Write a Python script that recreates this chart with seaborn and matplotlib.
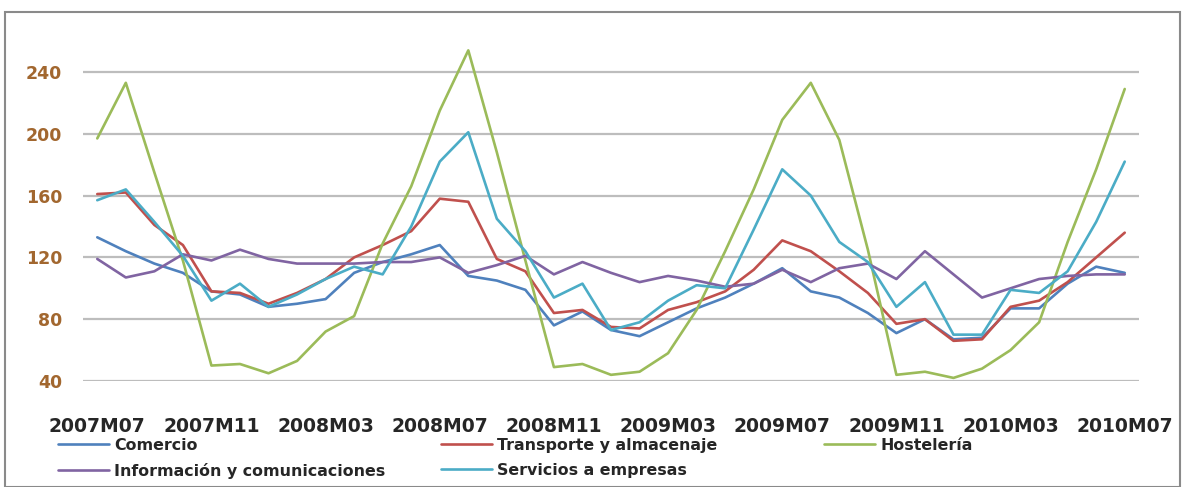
import matplotlib
matplotlib.use("Agg")
import matplotlib.pyplot as plt
import seaborn as sns
import pandas as pd
from matplotlib.patches import Rectangle

months = ["2007M07", "2007M08", "2007M09", "2007M10", "2007M11", "2007M12",
          "2008M01", "2008M02", "2008M03", "2008M04", "2008M05", "2008M06",
          "2008M07", "2008M08", "2008M09", "2008M10", "2008M11", "2008M12",
          "2009M01", "2009M02", "2009M03", "2009M04", "2009M05", "2009M06",
          "2009M07", "2009M08", "2009M09", "2009M10", "2009M11", "2009M12",
          "2010M01", "2010M02", "2010M03", "2010M04", "2010M05", "2010M06",
          "2010M07"]

comercio = [133, 124, 116, 110, 98, 96, 88, 90, 93, 110, 117, 122, 128, 108, 105, 99, 76, 85,
            73, 69, 78, 87, 94, 103, 113, 98, 94, 84, 71, 80, 67, 68, 87, 87, 103, 114, 110]
transporte = [161, 162, 141, 128, 98, 97, 90, 97, 106, 120, 128, 137, 158, 156, 119, 111, 84, 86,
              75, 74, 86, 91, 98, 112, 131, 124, 111, 97, 77, 80, 66, 67, 88, 92, 104, 120, 136]
hosteleria = [197, 233, 175, 118, 50, 51, 45, 53, 72, 82, 129, 166, 215, 254, 188, 118, 49, 51,
              44, 46, 58, 86, 124, 164, 209, 233, 196, 125, 44, 46, 42, 48, 60, 78, 130, 177, 229]
informacion = [119, 107, 111, 122, 118, 125, 119, 116, 116, 116, 117, 117, 120, 110, 115, 121, 109, 117,
               110, 104, 108, 105, 101, 103, 112, 104, 113, 116, 106, 124, 109, 94, 100, 106, 108, 109, 109]
servicios = [157, 164, 143, 121, 92, 103, 88, 96, 106, 114, 109, 140, 182, 201, 145, 124, 94, 103,
             73, 78, 92, 102, 100, 138, 177, 160, 130, 117, 88, 104, 70, 70, 99, 97, 111, 143, 182]

series_names = ["Comercio", "Transporte y almacenaje", "Hostelería",
                "Información y comunicaciones", "Servicios a empresas"]
series_values = [comercio, transporte, hosteleria, informacion, servicios]
colors = ["#4F81BD", "#C0504D", "#9BBB59", "#8064A2", "#4BACC6"]
y_ticks = [40, 80, 120, 160, 200, 240]

rows = []
for name, vals in zip(series_names, series_values):
    for i, v in enumerate(vals):
        rows.append({"idx": i, "valor": v, "serie": name})
df = pd.DataFrame(rows)

sns.set_theme(style="white")
plt.rcParams["font.family"] = ["DejaVu Sans"]

W, H = 1184, 487
fig = plt.figure(figsize=(W / 100, H / 100), dpi=100)
ax = fig.add_axes([83 / W, 1 - 381 / H, (1139 - 83) / W, (381 - 38) / H])

sns.lineplot(data=df, x="idx", y="valor", hue="serie", hue_order=series_names,
             palette=dict(zip(series_names, colors)), linewidth=1.9, ax=ax, legend=True)

ax.set_xlim(-0.5, 36.5)
ax.set_ylim(40, 262)
ax.set_yticks(y_ticks)
ax.set_yticklabels([str(t) for t in y_ticks], color="#A2672F", fontsize=12.5, fontweight="bold")
tick_idx = list(range(0, len(months), 4))
ax.set_xticks(tick_idx)
ax.set_xticklabels([months[i] for i in tick_idx], color="#262626", fontsize=13.5, fontweight="bold")
ax.tick_params(axis="y", length=0, pad=15)
ax.tick_params(axis="x", length=0, pad=26)
ax.set_xlabel("")
ax.set_ylabel("")
for s in ax.spines.values():
    s.set_visible(False)
ax.grid(axis="y", color="#BDBDBD", linewidth=1.6)
ax.grid(axis="x", visible=False)
ax.set_axisbelow(True)

handles, labels = ax.get_legend_handles_labels()
ax.get_legend().remove()
hmap = dict(zip(labels, handles))

columns = [(["Comercio", "Información y comunicaciones"], 58),
           (["Transporte y almacenaje", "Servicios a empresas"], 441),
           (["Hostelería"], 824)]
for names, x0 in columns:
    leg = fig.legend([hmap[n] for n in names], names, loc="upper left",
                     bbox_to_anchor=(x0 / W, 1 - 438 / H), frameon=False,
                     prop={"size": 11.4, "weight": "bold"}, handlelength=3.2,
                     handletextpad=0.35, labelspacing=0.62, borderaxespad=0, borderpad=0)
    for t in leg.get_texts():
        t.set_color("#262626")
    for l in leg.get_lines():
        l.set_linewidth(1.9)

fig.patches.append(Rectangle((5 / W, 0), (1180 - 5) / W, 1 - 12 / H, transform=fig.transFigure,
                             fill=False, edgecolor="#8A8A8A", linewidth=1.5))

fig.savefig("out.png", dpi=100, facecolor="white")
